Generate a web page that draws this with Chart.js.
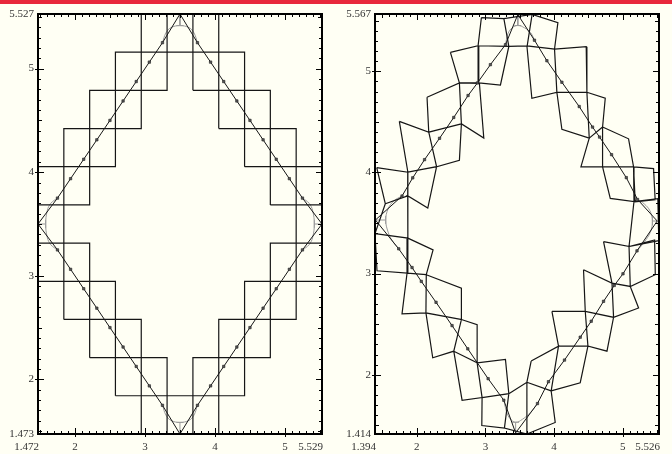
<!DOCTYPE html>
<html>
<head>
<meta charset="utf-8">
<script src="https://cdn.jsdelivr.net/npm/chart.js@4.4.1/dist/chart.umd.min.js"></script>
<style>
  html, body { margin: 0; padding: 0; background: #fffff4; }
  #wrap { position: relative; width: 672px; height: 454px; overflow: hidden; }
  #bar { position: absolute; left: 0; top: 0; width: 672px; height: 4px; background: #e8283c; }
  canvas { position: absolute; top: 0; }
  #left { left: 0; }
  #right { left: 336px; }
</style>
</head>
<body>
<div id="wrap">
  <canvas id="left" width="336" height="454"></canvas>
  <canvas id="right" width="336" height="454"></canvas>
  <div id="bar"></div>
</div>
<script>
// ---- left plot: square cells ----
var leftRangeX = [1.472, 5.529];
var leftRangeY = [1.473, 5.527];
var leftTicksX = ['1.472', '2', '3', '4', '5', '5.529'];
var leftTicksY = ['1.473', '2', '3', '4', '5', '5.527'];

// cell edges of the grid
var cellX = [1.472, 1.841, 2.210, 2.578, 2.947, 3.316, 3.685, 4.054, 4.423, 4.791, 5.160, 5.529];
var cellY = [1.473, 1.842, 2.210, 2.579, 2.947, 3.316, 3.684, 4.053, 4.421, 4.790, 5.159, 5.527];
// rows hit by the curve, one list per column
var cellRows = [[4,5,6],[3,4,6,7],[2,3,7,8],[1,2,8,9],[0,1,9,10],[0,10],
                [0,1,9,10],[1,2,8,9],[2,3,7,8],[3,4,6,7],[4,5,6]];

// curve through the sample points, corners included
var curveLX = [3.5, 3.25, 3.0625, 2.875, 2.6875, 2.5, 2.3125, 2.125, 1.9375, 1.75,
               1.472, 1.75, 1.9375, 2.125, 2.3125, 2.5, 2.6875, 2.875, 3.0625, 3.25,
               3.5, 3.75, 3.9375, 4.125, 4.3125, 4.5, 4.6875, 4.875, 5.0625, 5.25,
               5.529, 5.25, 5.0625, 4.875, 4.6875, 4.5, 4.3125, 4.125, 3.9375, 3.75, 3.5];
var curveLY = [5.527, 5.25, 5.0625, 4.875, 4.6875, 4.5, 4.3125, 4.125, 3.9375, 3.75,
               3.5, 3.25, 3.0625, 2.875, 2.6875, 2.5, 2.3125, 2.125, 1.9375, 1.75,
               1.473, 1.75, 1.9375, 2.125, 2.3125, 2.5, 2.6875, 2.875, 3.0625, 3.25,
               3.5, 3.75, 3.9375, 4.125, 4.3125, 4.5, 4.6875, 4.875, 5.0625, 5.25, 5.527];

// rounded caps at the four corners (grey)
var capTopX = [3.25, 3.30, 3.37, 3.5, 3.63, 3.70, 3.75];
var capTopY = [5.25, 5.345, 5.395, 5.415, 5.395, 5.345, 5.25];
var capLeftX = [1.75, 1.655, 1.605, 1.582, 1.605, 1.655, 1.75];
var capLeftY = [3.75, 3.70, 3.63, 3.5, 3.37, 3.30, 3.25];
var capBotX = [3.25, 3.30, 3.37, 3.5, 3.63, 3.70, 3.75];
var capBotY = [1.75, 1.655, 1.605, 1.585, 1.605, 1.655, 1.75];
var capRightX = [5.25, 5.345, 5.395, 5.419, 5.395, 5.345, 5.25];
var capRightY = [3.75, 3.70, 3.63, 3.5, 3.37, 3.30, 3.25];
// small grey tee from each corner to its cap: [x0, y0, x1, y1, barHalf, vertical?]
var teesL = [[3.5, 5.527, 3.5, 5.415, 0.05], [3.5, 1.473, 3.5, 1.585, 0.05],
             [1.472, 3.5, 1.582, 3.5, 0.04], [5.529, 3.5, 5.419, 3.5, 0.04]];

// ---- right plot: rotated boxes ----
var rightRangeX = [1.394, 5.526];
var rightRangeY = [1.414, 5.567];
var rightTicksX = ['1.394', '2', '3', '4', '5', '5.526'];
var rightTicksY = ['1.414', '2', '3', '4', '5', '5.567'];

var quadsTop = [
  [[2.942, 5.532], [3.269, 5.522], [3.341, 5.246], [2.894, 5.253]],
  [[3.269, 5.522], [3.680, 5.563], [3.608, 5.251], [3.341, 5.246]],
  [[3.680, 5.563], [4.055, 5.482], [4.006, 5.220], [3.608, 5.251]]
];
var quadsUpperLeft = [
  [[2.491, 5.187], [2.894, 5.253], [2.904, 4.885], [2.622, 4.885]],
  [[2.894, 5.253], [3.341, 5.246], [3.219, 4.865], [2.904, 4.885]],
  [[2.151, 4.744], [2.622, 4.885], [2.651, 4.481], [2.176, 4.399]],
  [[2.622, 4.885], [2.913, 4.882], [2.977, 4.340], [2.651, 4.481]],
  [[1.748, 4.505], [2.176, 4.399], [2.290, 4.057], [1.872, 4.003]],
  [[2.176, 4.399], [2.651, 4.481], [2.622, 4.121], [2.290, 4.057]],
  [[1.419, 4.048], [1.872, 4.003], [1.870, 3.769], [1.544, 3.691]],
  [[1.872, 4.003], [2.290, 4.057], [2.162, 3.648], [1.870, 3.769]],
  [[1.544, 3.691], [1.870, 3.769], [1.872, 3.351], [1.394, 3.395]],
  [[1.394, 3.395], [1.872, 3.351], [1.860, 3.004], [1.423, 3.028]]
];
var quadsLowerLeft = [
  [[1.872, 3.351], [2.239, 3.235], [2.140, 2.989], [1.860, 3.004]],
  [[1.860, 3.004], [2.140, 2.989], [2.135, 2.611], [1.787, 2.601]],
  [[2.140, 2.989], [2.651, 2.857], [2.651, 2.546], [2.135, 2.611]],
  [[2.135, 2.611], [2.651, 2.546], [2.540, 2.233], [2.234, 2.168]],
  [[2.651, 2.546], [2.880, 2.496], [2.880, 2.118], [2.540, 2.233]],
  [[2.540, 2.233], [2.880, 2.118], [2.952, 1.774], [2.661, 1.748]],
  [[2.880, 2.118], [3.292, 2.152], [3.341, 1.813], [2.952, 1.774]],
  [[2.952, 1.774], [3.341, 1.813], [3.277, 1.472], [2.948, 1.498]],
  [[3.341, 1.813], [3.604, 1.926], [3.604, 1.414], [3.277, 1.472]]
];
var quadsLowerRight = [
  [[3.604, 1.926], [3.957, 1.840], [4.016, 1.528], [3.604, 1.414]],
  [[3.666, 2.135], [4.064, 2.283], [3.957, 1.840], [3.604, 1.926]],
  [[4.064, 2.283], [4.492, 2.283], [4.380, 1.921], [3.957, 1.840]],
  [[3.968, 2.627], [4.453, 2.627], [4.492, 2.283], [4.064, 2.283]],
  [[4.453, 2.627], [4.865, 2.568], [4.769, 2.233], [4.492, 2.283]],
  [[4.428, 3.038], [4.842, 2.906], [4.865, 2.568], [4.453, 2.627]],
  [[4.842, 2.906], [5.108, 2.873], [5.229, 2.660], [4.865, 2.568]],
  [[4.719, 3.317], [5.090, 3.268], [5.108, 2.873], [4.842, 2.906]],
  [[5.090, 3.268], [5.462, 3.333], [5.472, 2.989], [5.108, 2.873]]
];
var quadsUpperRight = [
  [[5.162, 3.713], [5.509, 3.740], [5.523, 3.326], [5.090, 3.268]],
  [[5.156, 4.055], [5.447, 4.038], [5.470, 3.730], [5.180, 3.710]],
  [[4.705, 4.055], [5.156, 4.055], [5.162, 3.713], [4.817, 3.743]],
  [[4.705, 4.449], [5.083, 4.333], [5.156, 4.055], [4.705, 4.055]],
  [[4.511, 4.340], [4.705, 4.449], [4.705, 4.055], [4.390, 4.055]],
  [[4.477, 4.793], [4.744, 4.734], [4.705, 4.449], [4.511, 4.340]],
  [[4.040, 4.793], [4.477, 4.793], [4.511, 4.340], [4.113, 4.426]],
  [[4.006, 5.220], [4.467, 5.243], [4.477, 4.793], [4.040, 4.793]],
  [[3.604, 5.253], [4.006, 5.220], [4.040, 4.793], [3.676, 4.734]]
];

var curveRX = [3.472, 3.292, 3.073, 2.884, 2.748, 2.540, 2.333, 2.115, 1.943, 1.787,
               1.400, 1.739, 1.933, 2.068, 2.282, 2.515, 2.744, 3.040, 3.268,
               3.440, 3.758, 3.918, 4.151, 4.380, 4.540, 4.719, 4.875, 5.002, 5.206,
               5.500, 5.214, 5.050, 4.836, 4.661, 4.559, 4.365, 4.113, 3.895, 3.714, 3.472];
var curveRY = [5.561, 5.263, 5.066, 4.885, 4.761, 4.544, 4.338, 4.127, 3.947, 3.767,
               3.530, 3.245, 3.060, 2.923, 2.716, 2.486, 2.256, 1.961, 1.748,
               1.425, 1.715, 1.931, 2.145, 2.371, 2.529, 2.726, 2.883, 2.998, 3.225,
               3.520, 3.733, 3.949, 4.176, 4.350, 4.449, 4.652, 4.892, 5.105, 5.308, 5.561];
var cornersR = [0, 10, 19, 29, 39];

var capRTopX = [3.292, 3.33, 3.39, 3.472, 3.57, 3.66, 3.714];
var capRTopY = [5.263, 5.375, 5.43, 5.453, 5.43, 5.38, 5.308];
var capRLeftX = [1.787, 1.67, 1.585, 1.55, 1.585, 1.65, 1.739];
var capRLeftY = [3.767, 3.72, 3.64, 3.53, 3.41, 3.32, 3.245];
var capRBotX = [3.268, 3.31, 3.36, 3.44, 3.54, 3.66, 3.758];
var capRBotY = [1.748, 1.63, 1.565, 1.53, 1.56, 1.63, 1.715];
var capRRightX = [5.214, 5.31, 5.395, 5.43, 5.40, 5.31, 5.206];
var capRRightY = [3.733, 3.69, 3.62, 3.52, 3.41, 3.31, 3.225];
var teesR = [[3.472, 5.561, 3.472, 5.453, 0.05], [3.44, 1.425, 3.44, 1.53, 0.05],
             [1.400, 3.53, 1.55, 3.53, 0.04], [5.500, 3.52, 5.43, 3.52, 0.04]];

var ink = '#161616';
var grey = '#9a9a9a';

function pts(xs, ys) {
  return xs.map(function(x, i) { return {x: x, y: ys[i]}; });
}

// each cell as a closed outline, split by null points
function cellOutlines() {
  var out = [];
  cellRows.forEach(function(rows, i) {
    rows.forEach(function(j) {
      var x0 = cellX[i], x1 = cellX[i + 1], y0 = cellY[j], y1 = cellY[j + 1];
      out.push({x: x0, y: y0}, {x: x1, y: y0}, {x: x1, y: y1}, {x: x0, y: y1}, {x: x0, y: y0}, {x: x0, y: null});
    });
  });
  return out;
}

function quadOutlines(groups) {
  var out = [];
  groups.forEach(function(g) {
    g.forEach(function(q) {
      q.concat([q[0]]).forEach(function(c) { out.push({x: c[0], y: c[1]}); });
      out.push({x: q[0][0], y: null});
    });
  });
  return out;
}

function teeLines(tees) {
  var out = [];
  tees.forEach(function(t) {
    out.push({x: t[0], y: t[1]}, {x: t[2], y: t[3]}, {x: t[2], y: null});
    if (t[0] === t[2]) out.push({x: t[2] - t[4], y: t[3]}, {x: t[2] + t[4], y: t[3]}, {x: t[2], y: null});
    else out.push({x: t[2], y: t[3] - t[4]}, {x: t[2], y: t[3] + t[4]}, {x: t[2], y: null});
  });
  return out;
}

function capSet(xs, ys) {
  return {data: pts(xs, ys), borderColor: grey, borderWidth: 1, pointRadius: 0,
          showLine: true, tension: 0.4, order: 3};
}

function teeSet(tees) {
  return {data: teeLines(tees), borderColor: grey, borderWidth: 1, pointRadius: 0,
          showLine: true, spanGaps: false, order: 3};
}

function curveSet(xs, ys, corners) {
  return {data: pts(xs, ys), borderColor: ink, borderWidth: 1, showLine: true,
          pointStyle: 'rect',
          pointRadius: xs.map(function(x, i) { return corners.indexOf(i) >= 0 ? 0 : 1.7; }),
          pointBackgroundColor: '#555', pointBorderColor: '#222', pointBorderWidth: 0.6, order: 1};
}

// frame with inward minor ticks and the tick labels
var mapleFrame = {
  id: 'mapleFrame',
  afterDraw: function(chart, args, opts) {
    var c = chart.ctx, a = chart.chartArea;
    var sx = chart.scales.x, sy = chart.scales.y;
    c.save();
    c.strokeStyle = '#000';
    c.lineWidth = 1;
    var v, p;
    c.beginPath();
    for (v = Math.ceil(sx.min * 10); v <= sx.max * 10; v++) {
      p = Math.round(sx.getPixelForValue(v / 10)) + 0.5;
      var big = (v % 10 === 0) ? 6 : (v % 5 === 0 ? 4 : 3);
      c.moveTo(p, a.bottom); c.lineTo(p, a.bottom - big);
      c.moveTo(p, a.top); c.lineTo(p, a.top + big);
      if (v % 10 === 0) { c.moveTo(p, a.bottom); c.lineTo(p, a.bottom + 3); }
    }
    for (v = Math.ceil(sy.min * 10); v <= sy.max * 10; v++) {
      p = Math.round(sy.getPixelForValue(v / 10)) + 0.5;
      var bigy = (v % 10 === 0) ? 6 : (v % 5 === 0 ? 4 : 3);
      c.moveTo(a.left, p); c.lineTo(a.left + bigy, p);
      c.moveTo(a.right, p); c.lineTo(a.right - bigy, p);
      if (v % 10 === 0) { c.moveTo(a.left, p); c.lineTo(a.left - 3, p); }
    }
    c.stroke();
    c.lineWidth = 2;
    c.strokeRect(a.left, a.top, a.right - a.left, a.bottom - a.top);

    c.fillStyle = '#333';
    c.font = '11px "Liberation Serif", "DejaVu Serif", serif';
    c.textBaseline = 'middle';
    var tx = opts.ticksX, ty = opts.ticksY;
    tx.forEach(function(t, i) {
      var px = sx.getPixelForValue(parseFloat(t));
      if (i === 0 || i === tx.length - 1) { c.textAlign = 'right'; px += 1; }
      else c.textAlign = 'center';
      c.fillText(t, px, a.bottom + 13);
    });
    c.textAlign = 'right';
    ty.forEach(function(t) {
      var py = sy.getPixelForValue(parseFloat(t));
      c.fillText(t, a.left - 4, py);
    });
    c.restore();
  }
};

function makeChart(id, rx, ry, tx, ty, pad, sets) {
  return new Chart(document.getElementById(id), {
    type: 'scatter',
    data: {datasets: sets},
    options: {
      responsive: false,
      animation: false,
      events: [],
      layout: {padding: pad},
      plugins: {legend: {display: false}, tooltip: {enabled: false},
                mapleFrame: {ticksX: tx, ticksY: ty}},
      scales: {
        x: {type: 'linear', min: rx[0], max: rx[1], display: false},
        y: {type: 'linear', min: ry[0], max: ry[1], display: false}
      }
    },
    plugins: [mapleFrame]
  });
}

var leftSets = [
  {data: cellOutlines(), borderColor: ink, borderWidth: 1.2, pointRadius: 0, showLine: true, spanGaps: false, order: 2},
  capSet(capTopX, capTopY), capSet(capLeftX, capLeftY), capSet(capBotX, capBotY), capSet(capRightX, capRightY),
  teeSet(teesL),
  curveSet(curveLX, curveLY, [0, 10, 20, 30, 40])
];
makeChart('left', leftRangeX, leftRangeY, leftTicksX, leftTicksY,
          {left: 38, right: 14, top: 14, bottom: 20}, leftSets);

var rightSets = [
  {data: quadOutlines([quadsTop, quadsUpperLeft, quadsLowerLeft, quadsLowerRight, quadsUpperRight]),
   borderColor: ink, borderWidth: 1.2, pointRadius: 0, showLine: true, spanGaps: false, order: 2},
  capSet(capRTopX, capRTopY), capSet(capRLeftX, capRLeftY), capSet(capRBotX, capRBotY), capSet(capRRightX, capRRightY),
  teeSet(teesR),
  curveSet(curveRX, curveRY, cornersR)
];
makeChart('right', rightRangeX, rightRangeY, rightTicksX, rightTicksY,
          {left: 39, right: 13, top: 14, bottom: 20}, rightSets);
</script>
</body>
</html>
